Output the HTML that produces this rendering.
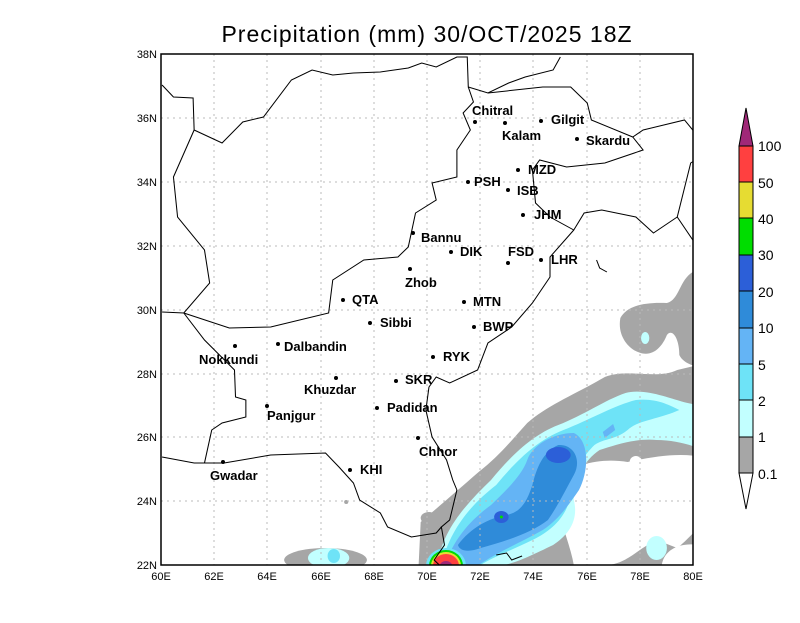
<!DOCTYPE html>
<html><head><meta charset="utf-8"><style>
body{margin:0;background:#fff;width:800px;height:618px;overflow:hidden}
text{font-family:"Liberation Sans",sans-serif}
</style></head><body>
<svg width="800" height="618" viewBox="0 0 800 618">
<text x="427" y="42" font-size="23" text-anchor="middle" fill="#000" style="letter-spacing:1px">Precipitation (mm) 30/OCT/2025 18Z</text>
<defs><clipPath id="c"><rect x="161" y="54" width="532" height="511"/></clipPath></defs>
<g clip-path="url(#c)">
<g transform="matrix(1.0345,0,0,1,-5.52,0)">
<!-- gray -->
<path fill="#a6a6a6" d="M410,565 L412,522 C428,508 448,490 468,472 C488,456 500,440 515,423 C535,405 560,395 590,377 C612,368 640,380 660,370 L693,362 L693,565 Z"/>
<path fill="#a6a6a6" d="M693,262 L675,272 C662,280 662,300 650,303 C630,302 612,305 605,318 C602,335 612,348 622,352 C635,358 645,348 650,335 C655,328 662,338 662,355 C665,362 675,368 693,368 Z"/>
<ellipse cx="320" cy="560" rx="40" ry="12" fill="#a6a6a6"/>
<ellipse cx="420" cy="518" rx="8" ry="6" fill="#a6a6a6"/>
<circle cx="340" cy="502" r="2" fill="#a6a6a6"/>
<!-- white holes -->
<path fill="#fff" d="M545,480 C560,462 590,458 612,462 C640,456 665,452 688,458 L693,470 L693,515 C682,525 670,540 660,548 L640,540 C620,550 610,565 590,565 L560,565 C556,540 540,510 545,480 Z"/>
<path fill="#fff" d="M645,565 C648,545 672,540 690,548 L693,565 Z"/>
<circle cx="620" cy="462" r="6" fill="#fff"/>
<!-- light cyan -->
<path fill="#c2ffff" d="M428,565 C433,530 455,505 480,480 C500,455 520,435 545,425 C570,415 590,400 610,393 C630,388 650,398 670,403 L693,408 L693,452 C675,446 660,440 640,440 C620,438 600,445 585,450 C570,460 560,480 560,500 C565,520 555,535 540,545 C520,555 500,565 490,565 Z"/>
<ellipse cx="323" cy="558" rx="20" ry="10" fill="#c2ffff"/>
<ellipse cx="640" cy="548" rx="10" ry="12" fill="#c2ffff"/>
<ellipse cx="688" cy="470" rx="8" ry="22" fill="#c2ffff"/>
<ellipse cx="629" cy="338" rx="4" ry="6" fill="#c2ffff"/>
<!-- cyan -->
<path fill="#6ee3f7" d="M432,565 C440,530 460,505 485,485 C505,460 525,440 550,430 C575,420 600,405 620,400 C640,398 652,405 662,410 C640,420 622,420 612,430 C600,440 590,438 580,445 C570,455 560,470 558,490 C555,515 540,530 520,540 C500,550 480,558 470,565 Z"/>
<ellipse cx="328" cy="556" rx="6" ry="7" fill="#6ee3f7"/>
<ellipse cx="690" cy="468" rx="5" ry="16" fill="#6ee3f7"/>
<!-- blue 5 -->
<path fill="#64b4f5" d="M436,565 C443,540 460,520 480,505 C495,490 510,475 515,460 C520,445 540,433 560,433 C575,440 575,470 565,490 C555,505 545,520 530,530 C510,542 490,550 468,565 Z"/>
<path fill="#64b4f5" d="M588,432 L598,424 L600,430 L590,438 Z"/>
<!-- 10 -->
<path fill="#2f8bd9" d="M448,545 C460,528 478,518 495,515 C510,512 515,500 520,485 C524,468 530,452 545,445 C560,444 568,460 560,475 C552,490 545,505 535,520 C520,532 498,540 470,548 C460,552 450,552 448,545 Z"/>
<ellipse cx="545" cy="455" rx="12" ry="8" fill="#2c5fd8"/>
<ellipse cx="490" cy="517" rx="7" ry="6" fill="#2c5fd8"/>
<circle cx="490" cy="517" r="1.5" fill="#00dd00"/>
</g>
<!-- intense -->
<ellipse cx="446" cy="566" rx="20" ry="18" fill="#6ee3f7"/>
<ellipse cx="446" cy="566" rx="17" ry="16" fill="#00dd00"/>
<ellipse cx="446" cy="566" rx="15" ry="14" fill="#e6dc32"/>
<ellipse cx="446" cy="566" rx="13" ry="12" fill="#ff4040"/>
<ellipse cx="446" cy="568" rx="7" ry="7" fill="#a02878"/>
</g>
<!-- grid -->
<g stroke="#bbb" stroke-dasharray="2,4" stroke-width="1">
<path d="M214,54V565M267,54V565M321,54V565M374,54V565M427,54V565M480,54V565M533,54V565M587,54V565M640,54V565"/>
<path d="M161,118H693M161,182H693M161,246H693M161,310H693M161,374H693M161,437H693M161,501H693"/>
</g>
<!-- outlines -->
<g clip-path="url(#c)">
<g fill="none" stroke="#000" stroke-width="1" transform="matrix(1.0345,0,0,1,-5.52,0)">
<path d="M162,85 L173,97 L192,98 L193,130 L220,143 L240,122 L260,117 L287,80 L307,70 L327,75 L347,73 L373,72 L400,68 L413,63 L427,67 L447,57 L457,57 L458,87 L477,93 L497,83 L513,77 L540,70 L547,57"/>
<path d="M193,130 L173,177 L177,217 L203,250 L208,283 L183,313 L162,312"/>
<path d="M183,313 L227,328 L267,327 L323,313 L327,280 L357,260 L390,257 L400,247 L407,213 L427,200 L423,183 L447,177 L447,150 L460,130 L453,113 L463,102 L458,87"/>
<path d="M477,93 L530,87 L557,87 L573,103 L577,120 L617,137 L627,130 L667,120 L675,130 L693,135"/>
<path d="M617,137 L627,150 L590,163 L553,167 L527,160 L520,170 L523,203 L537,217 L560,230 L570,213 L587,210 L620,217 L637,233 L660,217 L673,163 L693,150"/>
<path d="M560,230 L537,257 L537,277 L520,303 L500,327 L477,343 L467,370 L440,383 L427,377 L420,387 L417,410 L423,437 L437,460 L443,480 L447,490"/>
<path d="M183,313 L203,340 L232,370 L233,397 L243,400 L243,417 L220,423 L210,430 L203,463"/>
<path d="M162,457 L193,463 L222,463 L267,455 L320,453 L333,467 L347,483 L353,500 L373,513 L380,527 L403,537 L427,533 L432,527"/>
<path d="M447,490 L440,520 L432,527 L435,545 L425,560 L430,565"/>
<path d="M485,555 L495,553 L500,560 L510,556"/>
<path d="M660,217 L675,240 L693,260"/>
<path d="M582,260 L585,268 L592,272"/>
</g>
</g>
<rect x="161" y="54" width="532" height="511" fill="none" stroke="#000" stroke-width="1.5"/>
<!-- axis labels -->
<g font-size="11" fill="#000">
<g text-anchor="end">
<text x="157" y="58">38N</text><text x="157" y="122">36N</text><text x="157" y="186">34N</text><text x="157" y="250">32N</text><text x="157" y="314">30N</text><text x="157" y="378">28N</text><text x="157" y="441">26N</text><text x="157" y="505">24N</text><text x="157" y="569">22N</text>
</g>
<g text-anchor="middle">
<text x="161" y="580">60E</text><text x="214" y="580">62E</text><text x="267" y="580">64E</text><text x="321" y="580">66E</text><text x="374" y="580">68E</text><text x="427" y="580">70E</text><text x="480" y="580">72E</text><text x="533" y="580">74E</text><text x="587" y="580">76E</text><text x="640" y="580">78E</text><text x="693" y="580">80E</text>
</g>
</g>
<!-- cities -->
<g font-size="13" font-weight="bold" fill="#000">
<circle cx="475" cy="122" r="2"/><text x="472" y="115">Chitral</text>
<circle cx="505" cy="123" r="2"/><text x="502" y="140">Kalam</text>
<circle cx="541" cy="121" r="2"/><text x="551" y="124">Gilgit</text>
<circle cx="577" cy="139" r="2"/><text x="586" y="145">Skardu</text>
<circle cx="518" cy="170" r="2"/><text x="528" y="174">MZD</text>
<circle cx="468" cy="182" r="2"/><text x="474" y="186">PSH</text>
<circle cx="508" cy="190" r="2"/><text x="517" y="195">ISB</text>
<circle cx="523" cy="215" r="2"/><text x="534" y="219">JHM</text>
<circle cx="413" cy="233" r="2"/><text x="421" y="242">Bannu</text>
<circle cx="451" cy="252" r="2"/><text x="460" y="256">DIK</text>
<circle cx="508" cy="263" r="2"/><text x="508" y="256">FSD</text>
<circle cx="541" cy="260" r="2"/><text x="551" y="264">LHR</text>
<circle cx="410" cy="269" r="2"/><text x="405" y="287">Zhob</text>
<circle cx="343" cy="300" r="2"/><text x="352" y="304">QTA</text>
<circle cx="464" cy="302" r="2"/><text x="473" y="306">MTN</text>
<circle cx="370" cy="323" r="2"/><text x="380" y="327">Sibbi</text>
<circle cx="474" cy="327" r="2"/><text x="483" y="331">BWP</text>
<circle cx="235" cy="346" r="2"/><text x="199" y="364">Nokkundi</text>
<circle cx="278" cy="344" r="2"/><text x="284" y="351">Dalbandin</text>
<circle cx="433" cy="357" r="2"/><text x="443" y="361">RYK</text>
<circle cx="336" cy="378" r="2"/><text x="304" y="394">Khuzdar</text>
<circle cx="396" cy="381" r="2"/><text x="405" y="384">SKR</text>
<circle cx="267" cy="406" r="2"/><text x="267" y="420">Panjgur</text>
<circle cx="377" cy="408" r="2"/><text x="387" y="412">Padidan</text>
<circle cx="418" cy="438" r="2"/><text x="419" y="456">Chhor</text>
<circle cx="223" cy="462" r="2"/><text x="210" y="480">Gwadar</text>
<circle cx="350" cy="470" r="2"/><text x="360" y="474">KHI</text>
</g>
<!-- colorbar -->
<g stroke="#000" stroke-width="1">
<polygon points="739,146 746,108 753,146" fill="#a02878"/>
<rect x="739" y="146" width="14" height="36" fill="#ff4040"/>
<rect x="739" y="182" width="14" height="36" fill="#e6dc32"/>
<rect x="739" y="218" width="14" height="37" fill="#00dd00"/>
<rect x="739" y="255" width="14" height="36" fill="#2c5fd8"/>
<rect x="739" y="291" width="14" height="37" fill="#2f8bd9"/>
<rect x="739" y="328" width="14" height="36" fill="#64b4f5"/>
<rect x="739" y="364" width="14" height="36" fill="#6ee3f7"/>
<rect x="739" y="400" width="14" height="37" fill="#c2ffff"/>
<rect x="739" y="437" width="14" height="36" fill="#a6a6a6"/>
<polygon points="739,473 746,509 753,473" fill="#fff"/>
</g>
<g font-size="14" fill="#000">
<text x="758" y="151">100</text><text x="758" y="188">50</text><text x="758" y="224">40</text><text x="758" y="260">30</text><text x="758" y="297">20</text><text x="758" y="333">10</text><text x="758" y="370">5</text><text x="758" y="406">2</text><text x="758" y="442">1</text><text x="758" y="479">0.1</text>
</g>
</svg>
</body></html>
